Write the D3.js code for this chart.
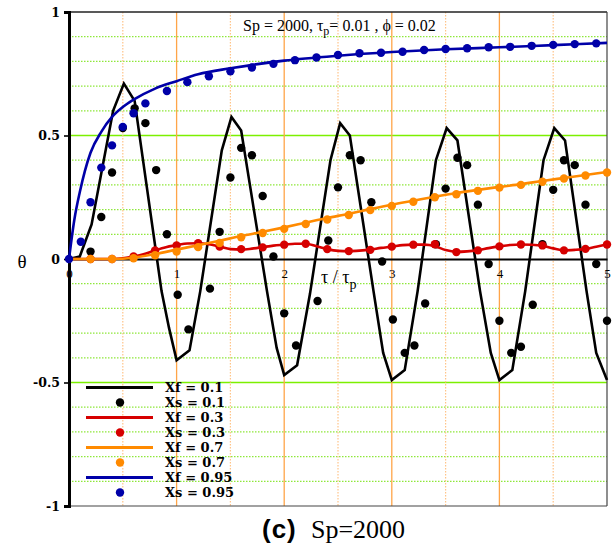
<!DOCTYPE html>
<html>
<head>
<meta charset="utf-8">
<script src="https://cdn.jsdelivr.net/npm/d3@7"></script>
<style>
  body { margin: 0; background: #fff; }
</style>
</head>
<body>
<div id="chart"></div>
<script>
// Data: [tau/tau_p, theta]
const xf01 = [[0,0],[0.1,0.01],[0.21,0.14],[0.41,0.60],[0.51,0.71],[0.61,0.64],[0.86,-0.13],[0.93,-0.28],[1.0,-0.41],
  [1.12,-0.37],[1.22,-0.13],[1.42,0.44],[1.51,0.575],[1.60,0.52],[1.84,-0.13],[1.93,-0.36],[2.0,-0.47],
  [2.12,-0.43],[2.24,-0.14],[2.43,0.40],[2.52,0.55],[2.61,0.50],[2.83,-0.13],[2.92,-0.38],[3.0,-0.49],
  [3.12,-0.45],[3.24,-0.13],[3.41,0.40],[3.51,0.53],[3.61,0.48],[3.82,-0.13],[3.92,-0.38],[4.0,-0.49],
  [4.12,-0.45],[4.24,-0.13],[4.41,0.40],[4.51,0.53],[4.61,0.48],[4.81,-0.13],[4.9,-0.38],[5.0,-0.49]];
const xs01 = [[0.2,0.03],[0.3,0.17],[0.4,0.35],[0.5,0.53],[0.61,0.61],[0.71,0.55],[0.81,0.36],[0.91,0.10],
  [1.01,-0.145],[1.11,-0.285],[1.31,-0.12],[1.4,0.11],[1.5,0.33],[1.6,0.45],[1.7,0.42],[1.8,0.255],[1.9,0.01],
  [2.0,-0.22],[2.11,-0.35],[2.31,-0.17],[2.41,0.075],[2.5,0.29],[2.61,0.42],[2.71,0.40],[2.81,0.23],[2.91,-0.01],
  [3.01,-0.245],[3.12,-0.38],[3.21,-0.35],[3.31,-0.18],[3.41,0.06],[3.5,0.285],[3.61,0.41],[3.7,0.38],[3.8,0.22],[3.9,-0.02],
  [4.0,-0.25],[4.11,-0.38],[4.2,-0.355],[4.31,-0.185],[4.4,0.06],[4.5,0.28],[4.6,0.40],[4.7,0.38],[4.8,0.22],[4.9,-0.02],[5.0,-0.25]];
const xf03 = [[0,0],[0.4,0],[0.5,0.003],[0.6,0.01],[0.7,0.02],[0.8,0.035],[0.9,0.048],[1.0,0.056],[1.1,0.063],[1.2,0.064],
  [1.3,0.06],[1.4,0.05],[1.5,0.04],[1.6,0.038],[1.7,0.042],[1.8,0.048],[1.9,0.054],[2.0,0.058],[2.1,0.062],[2.2,0.062],
  [2.3,0.052],[2.4,0.04],[2.5,0.033],[2.6,0.032],[2.7,0.034],[2.8,0.038],[2.9,0.045],[3.0,0.05],[3.1,0.056],[3.2,0.058],
  [3.3,0.058],[3.4,0.052],[3.5,0.036],[3.6,0.029],[3.7,0.031],[3.8,0.036],[3.9,0.044],[4.0,0.051],[4.1,0.057],[4.2,0.059],
  [4.3,0.058],[4.4,0.054],[4.5,0.043],[4.6,0.035],[4.7,0.037],[4.8,0.041],[4.9,0.05],[5.0,0.059]];
const xs03 = [[0.2,0],[0.4,0],[0.6,0.01],[0.8,0.035],[1.0,0.055],[1.2,0.064],[1.4,0.05],[1.6,0.04],[1.8,0.047],[2.0,0.058],
  [2.2,0.062],[2.4,0.04],[2.6,0.032],[2.8,0.037],[3.0,0.05],[3.2,0.058],[3.4,0.06],[3.6,0.028],[3.8,0.035],[4.0,0.051],
  [4.2,0.059],[4.4,0.055],[4.6,0.035],[4.8,0.041],[5.0,0.059]];
const xf07 = [[0,0],[0.4,0],[0.6,0.005],[0.8,0.02],[1.0,0.038],[1.2,0.056],[1.4,0.074],[1.6,0.093],[1.8,0.11],[2.0,0.128],
  [2.2,0.147],[2.4,0.166],[2.6,0.183],[2.8,0.202],[3.0,0.22],[3.2,0.236],[3.4,0.252],[3.6,0.267],[3.8,0.28],[4.0,0.292],
  [4.2,0.303],[4.4,0.316],[4.6,0.328],[4.8,0.34],[5.0,0.352]];
const xs07 = [[0.2,0],[0.4,0],[0.6,0.003],[0.8,0.015],[1.0,0.03],[1.2,0.048],[1.4,0.065],[1.6,0.088],[1.8,0.105],[2.0,0.122],
  [2.2,0.142],[2.4,0.16],[2.6,0.178],[2.8,0.198],[3.0,0.215],[3.2,0.232],[3.4,0.25],[3.6,0.262],[3.8,0.276],[4.0,0.289],
  [4.2,0.3],[4.4,0.313],[4.6,0.326],[4.8,0.338],[5.0,0.35]];
const xf095 = [[0,0],[0.05,0.16],[0.1,0.27],[0.2,0.43],[0.3,0.515],[0.4,0.575],[0.5,0.615],[0.6,0.645],[0.8,0.69],[1.0,0.72],
  [1.2,0.748],[1.5,0.772],[2.0,0.803],[2.5,0.823],[3.0,0.838],[3.5,0.849],[4.0,0.857],[4.5,0.866],[5.0,0.875]];
const xs095 = [[0,0],[0.11,0.07],[0.2,0.23],[0.3,0.37],[0.4,0.46],[0.5,0.535],[0.6,0.59],[0.71,0.63],[0.91,0.68],[1.1,0.716],
  [1.3,0.74],[1.5,0.76],[1.7,0.775],[1.9,0.79],[2.1,0.805],[2.3,0.816],[2.5,0.826],[2.7,0.833],[2.9,0.835],[3.1,0.839],
  [3.3,0.846],[3.5,0.85],[3.7,0.853],[3.9,0.857],[4.1,0.859],[4.3,0.863],[4.5,0.867],[4.7,0.87],[4.9,0.873]];

const xTicks = [0, 1, 2, 3, 4, 5];
const yTicks = [-1, -0.5, 0, 0.5, 1];
const yTickLabels = ['-1', '-0.5', '0', '0.5', '1'];
const legendLabels = ['Xf = 0.1', 'Xs = 0.1', 'Xf = 0.3', 'Xs = 0.3', 'Xf = 0.7', 'Xs = 0.7', 'Xf = 0.95', 'Xs = 0.95'];

function draw() {
    const xAccessor = d => d[0];
    const yAccessor = d => d[1];

    const dimensions = {
        width: 613,
        height: 551,
        left: 69,
        right: 607,
        top: 12,
        bottom: 506
    }

    const xScale = d3.scaleLinear().domain([0, 5]).range([dimensions.left, dimensions.right])
    const yScale = d3.scaleLinear().domain([-1, 1]).range([dimensions.bottom, dimensions.top])

    const svg = d3.select('#chart')
        .append('svg')
        .attr('width', dimensions.width)
        .attr('height', dimensions.height)
        .style('font-family', '"Liberation Serif", serif')

    // grid
    const grid = svg.append('g')
    const hLines = d3.range(-9, 10).filter(i => i !== 0).map(i => i / 10)
    grid.selectAll('.hgrid')
        .data(hLines)
        .join('line')
        .attr('x1', dimensions.left).attr('x2', dimensions.right)
        .attr('y1', d => yScale(d)).attr('y2', d => yScale(d))
        .attr('stroke', d => Math.abs(d) === 0.5 ? '#7cf000' : '#8ee83a')
        .attr('stroke-width', d => Math.abs(d) === 0.5 ? 1.6 : 1.2)
        .attr('stroke-dasharray', d => Math.abs(d) === 0.5 ? null : '1.5,1.5')

    const vLines = d3.range(1, 10).map(i => i / 2)
    grid.selectAll('.vgrid')
        .data(vLines)
        .join('line')
        .attr('x1', d => xScale(d)).attr('x2', d => xScale(d))
        .attr('y1', dimensions.top).attr('y2', dimensions.bottom)
        .attr('stroke', d => d % 1 === 0 ? '#ffa548' : '#ffc488')
        .attr('stroke-width', d => d % 1 === 0 ? 1.3 : 1.2)
        .attr('stroke-dasharray', d => d % 1 === 0 ? null : '1.5,1.5')

    // frame
    svg.append('line')
        .attr('x1', dimensions.left).attr('x2', dimensions.right)
        .attr('y1', dimensions.top).attr('y2', dimensions.top)
        .attr('stroke', '#222').attr('stroke-width', 1.6)
    svg.append('line')
        .attr('x1', dimensions.right).attr('x2', dimensions.right)
        .attr('y1', dimensions.top).attr('y2', dimensions.bottom)
        .attr('stroke', '#444').attr('stroke-width', 1.2)
    svg.append('line')
        .attr('x1', dimensions.left).attr('x2', dimensions.right)
        .attr('y1', dimensions.bottom).attr('y2', dimensions.bottom)
        .attr('stroke', '#444').attr('stroke-width', 1.2)

    // axes
    const yAxis = d3.axisLeft(yScale)
        .tickValues(yTicks)
        .tickSize(5)
        .tickPadding(4)
        .tickFormat((d, i) => yTickLabels[i])
    const yAxisGroup = svg.append('g')
        .attr('transform', `translate(${dimensions.left},0)`)
        .call(yAxis)
    yAxisGroup.select('.domain').attr('stroke', '#000').attr('stroke-width', 3)
    yAxisGroup.selectAll('.tick line').attr('stroke', '#000').attr('stroke-width', 1.6)
    yAxisGroup.selectAll('text')
        .style('font-family', '"DejaVu Serif", serif')
        .style('font-weight', 'bold')
        .style('font-size', '12.5px')
        .attr('fill', '#000')

    const xAxis = d3.axisBottom(xScale)
        .tickValues(xTicks)
        .tickSize(0)
        .tickPadding(10)
        .tickFormat(d => d)
    const xAxisGroup = svg.append('g')
        .attr('transform', `translate(0,${yScale(0)})`)
        .call(xAxis)
    xAxisGroup.select('.domain').attr('stroke', '#000').attr('stroke-width', 2)
    xAxisGroup.selectAll('text')
        .style('font-family', '"Liberation Serif", serif')
        .style('font-size', '13px')
        .attr('fill', '#000')

    // series
    const series = [
        { line: xf01, dots: xs01, color: '#000000', curve: d3.curveLinear },
        { line: xf03, dots: xs03, color: '#d60000', curve: d3.curveMonotoneX },
        { line: xf07, dots: xs07, color: '#ff8a00', curve: d3.curveMonotoneX },
        { line: xf095, dots: xs095, color: '#0000a8', curve: d3.curveMonotoneX }
    ]

    const plot = svg.append('g')
    series.forEach(s => {
        const lineGen = d3.line()
            .x(d => xScale(xAccessor(d)))
            .y(d => yScale(yAccessor(d)))
            .curve(s.curve)
        plot.append('path')
            .datum(s.line)
            .attr('d', lineGen)
            .attr('fill', 'none')
            .attr('stroke', s.color)
            .attr('stroke-width', 2.6)
            .attr('stroke-linejoin', 'miter')
        plot.append('g').selectAll('circle')
            .data(s.dots)
            .join('circle')
            .attr('cx', d => xScale(xAccessor(d)))
            .attr('cy', d => yScale(yAccessor(d)))
            .attr('r', 4.2)
            .attr('fill', s.color)
    })

    // legend
    const legend = svg.append('g')
    legendLabels.forEach((label, i) => {
        const y = 387.5 + i * 15
        const color = series[Math.floor(i / 2)].color
        if (i % 2 === 0) {
            legend.append('line')
                .attr('x1', 86).attr('x2', 153)
                .attr('y1', y).attr('y2', y)
                .attr('stroke', color).attr('stroke-width', 3)
        } else {
            legend.append('circle')
                .attr('cx', 120).attr('cy', y).attr('r', 4.2)
                .attr('fill', color)
        }
        legend.append('text')
            .attr('x', 165).attr('y', y)
            .attr('dy', '0.36em')
            .style('font-family', '"DejaVu Serif", serif')
            .style('font-weight', 'bold')
            .style('font-size', '13px')
            .text(label)
    })

    // labels
    svg.append('text')
        .attr('x', 22).attr('y', 268)
        .attr('text-anchor', 'middle')
        .style('font-size', '19px')
        .text('θ')

    const xLabel = svg.append('text')
        .attr('x', 321).attr('y', 283)
        .style('font-size', '18px')
    xLabel.append('tspan').text('τ / τ')
    xLabel.append('tspan').attr('dy', 6).style('font-size', '14px').text('p')

    const title = svg.append('text')
        .attr('x', 243).attr('y', 31)
        .style('font-size', '16px')
    title.append('tspan').text('Sp = 2000, τ')
    title.append('tspan').attr('dy', 4).style('font-size', '12px').text('p')
    title.append('tspan').attr('dy', -4).text('= 0.01 , ϕ = 0.02')

    const caption = svg.append('text')
        .attr('x', 262).attr('y', 538)
    caption.append('tspan')
        .style('font-family', '"Liberation Sans", Arial, sans-serif')
        .style('font-weight', 'bold')
        .style('font-size', '26px')
        .style('letter-spacing', '1px')
        .text('(c)')
    caption.append('tspan')
        .attr('x', 311)
        .style('font-size', '26px')
        .text('Sp=2000')
}
draw()
</script>
</body>
</html>
